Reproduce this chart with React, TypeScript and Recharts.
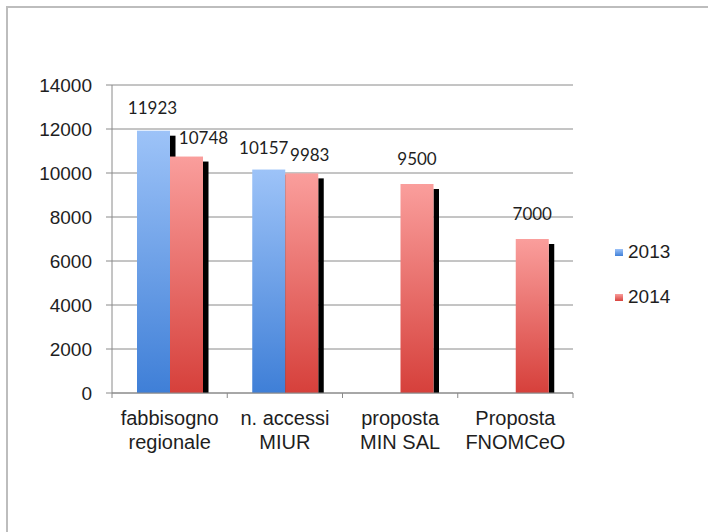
import React from 'react';
import { BarChart, Bar, XAxis, YAxis, CartesianGrid, LabelList } from 'recharts';

// chart data
const categories = ['fabbisogno\nregionale', 'n. accessi\nMIUR', 'proposta\nMIN SAL', 'Proposta\nFNOMCeO'];
const values2013: (number | null)[] = [11923, 10157, null, null];
const values2014: (number | null)[] = [10748, 9983, 9500, 7000];
const yTicks = [0, 2000, 4000, 6000, 8000, 10000, 12000, 14000];
const seriesNames = ['2013', '2014'];

// small label nudges (the original spreads labels that would collide)
const nudge2013 = [[-1, 0], [-5, 1]];
const nudge2014 = [[17, 4.5], [8, 5], [0, -2], [0, -2]];

const W = 708;
const H = 532;
const M = { top: 85, right: 135, bottom: 59, left: 0 };
const Y_AXIS_W = 112;
const X_AXIS_H = 80;
const plotW = W - M.left - M.right - Y_AXIS_W;
const halfBand = plotW / categories.length / 2;

const axisGray = '#8a8a8a';
const textColor = '#1e1e1e';
const arial = '"Liberation Sans", Arial, sans-serif';

const data = categories.map((name, i) => ({
  name,
  y2013: values2013[i],
  y2014: values2014[i],
}));

const ShadowBar = (gradId: string) => (props: any) => {
  const { x, y, width, height } = props;
  if (height == null || height <= 0 || isNaN(y)) return null;
  return (
    <g>
      <rect x={x + width} y={y + 5} width={5.5} height={Math.max(0, height - 5)} fill="#000" />
      <rect x={x} y={y} width={width} height={height} fill={`url(#${gradId})`} />
    </g>
  );
};

const valueLabel = (nudges: number[][]) => (props: any) => {
  const { x, y, width, value, index } = props;
  if (value == null) return null;
  const [dx, dy] = nudges[index] || [0, 0];
  return (
    <text
      x={x + width / 2 + dx}
      y={y - 23 + dy}
      dy="0.36em"
      textAnchor="middle"
      fontFamily='Lato, "Open Sans", sans-serif'
      fontSize={17}
      fill={textColor}
    >
      {value}
    </text>
  );
};

const CategoryTick = (props: any) => {
  const { x, y, payload, index } = props;
  const lines = String(payload.value).split('\n');
  return (
    <g>
      <line x1={x - halfBand} x2={x - halfBand} y1={y} y2={y + 5} stroke={axisGray} />
      {index === categories.length - 1 && (
        <line x1={x + halfBand} x2={x + halfBand} y1={y} y2={y + 5} stroke={axisGray} />
      )}
      {lines.map((l, i) => (
        <text
          key={i}
          x={x}
          y={y + 32 + i * 24}
          textAnchor="middle"
          fontFamily={arial}
          fontSize={20}
          fill={textColor}
        >
          {l}
        </text>
      ))}
    </g>
  );
};

const legendItems = [
  { name: seriesNames[0], grad: 'linear-gradient(#9cc2f8, #4080d8)' },
  { name: seriesNames[1], grad: 'linear-gradient(#f99d9b, #d8433e)' },
];

export default function App() {
  return (
    <div style={{ position: 'absolute', left: 0, top: 0, width: W, height: H, background: '#fff' }}>
      <div
        style={{
          position: 'absolute',
          left: 6,
          top: 6,
          right: 0,
          bottom: 0,
          borderLeft: '2px solid #bdbdbd',
          borderTop: '2px solid #bdbdbd',
        }}
      />
      <div style={{ position: 'absolute', left: 0, top: 0 }}>
        <BarChart width={W} height={H} data={data} margin={M} barCategoryGap={25} barGap={0}>
          <defs>
            <linearGradient id="g2013" x1="0" y1="0" x2="0" y2="1">
              <stop offset="0%" stopColor="#9dc3f8" />
              <stop offset="100%" stopColor="#3f7fd7" />
            </linearGradient>
            <linearGradient id="g2014" x1="0" y1="0" x2="0" y2="1">
              <stop offset="0%" stopColor="#fa9e9c" />
              <stop offset="100%" stopColor="#d6403b" />
            </linearGradient>
          </defs>
          <CartesianGrid vertical={false} stroke={axisGray} strokeWidth={1} />
          <XAxis
            dataKey="name"
            height={X_AXIS_H}
            axisLine={{ stroke: axisGray }}
            tickLine={false}
            tickSize={0}
            tickMargin={0}
            interval={0}
            tick={<CategoryTick />}
          />
          <YAxis
            width={Y_AXIS_W}
            domain={[0, 14000]}
            ticks={yTicks}
            interval={0}
            axisLine={{ stroke: axisGray }}
            tickLine={{ stroke: axisGray }}
            tickSize={6}
            tickMargin={14}
            tick={{ fontFamily: arial, fontSize: 19, fill: textColor }}
          />
          <Bar dataKey="y2013" name={seriesNames[0]} shape={ShadowBar('g2013')} isAnimationActive={false}>
            <LabelList dataKey="y2013" content={valueLabel(nudge2013)} />
          </Bar>
          <Bar dataKey="y2014" name={seriesNames[1]} shape={ShadowBar('g2014')} isAnimationActive={false}>
            <LabelList dataKey="y2014" content={valueLabel(nudge2014)} />
          </Bar>
        </BarChart>
      </div>
      {legendItems.map((it, i) => (
        <div
          key={it.name}
          style={{
            position: 'absolute',
            left: 615,
            top: 240 + i * 45,
            height: 24,
            display: 'flex',
            alignItems: 'center',
            fontFamily: arial,
            fontSize: 19,
            color: textColor,
          }}
        >
          <span style={{ width: 8, height: 7, background: it.grad, marginRight: 5, display: 'inline-block' }} />
          {it.name}
        </div>
      ))}
    </div>
  );
}
